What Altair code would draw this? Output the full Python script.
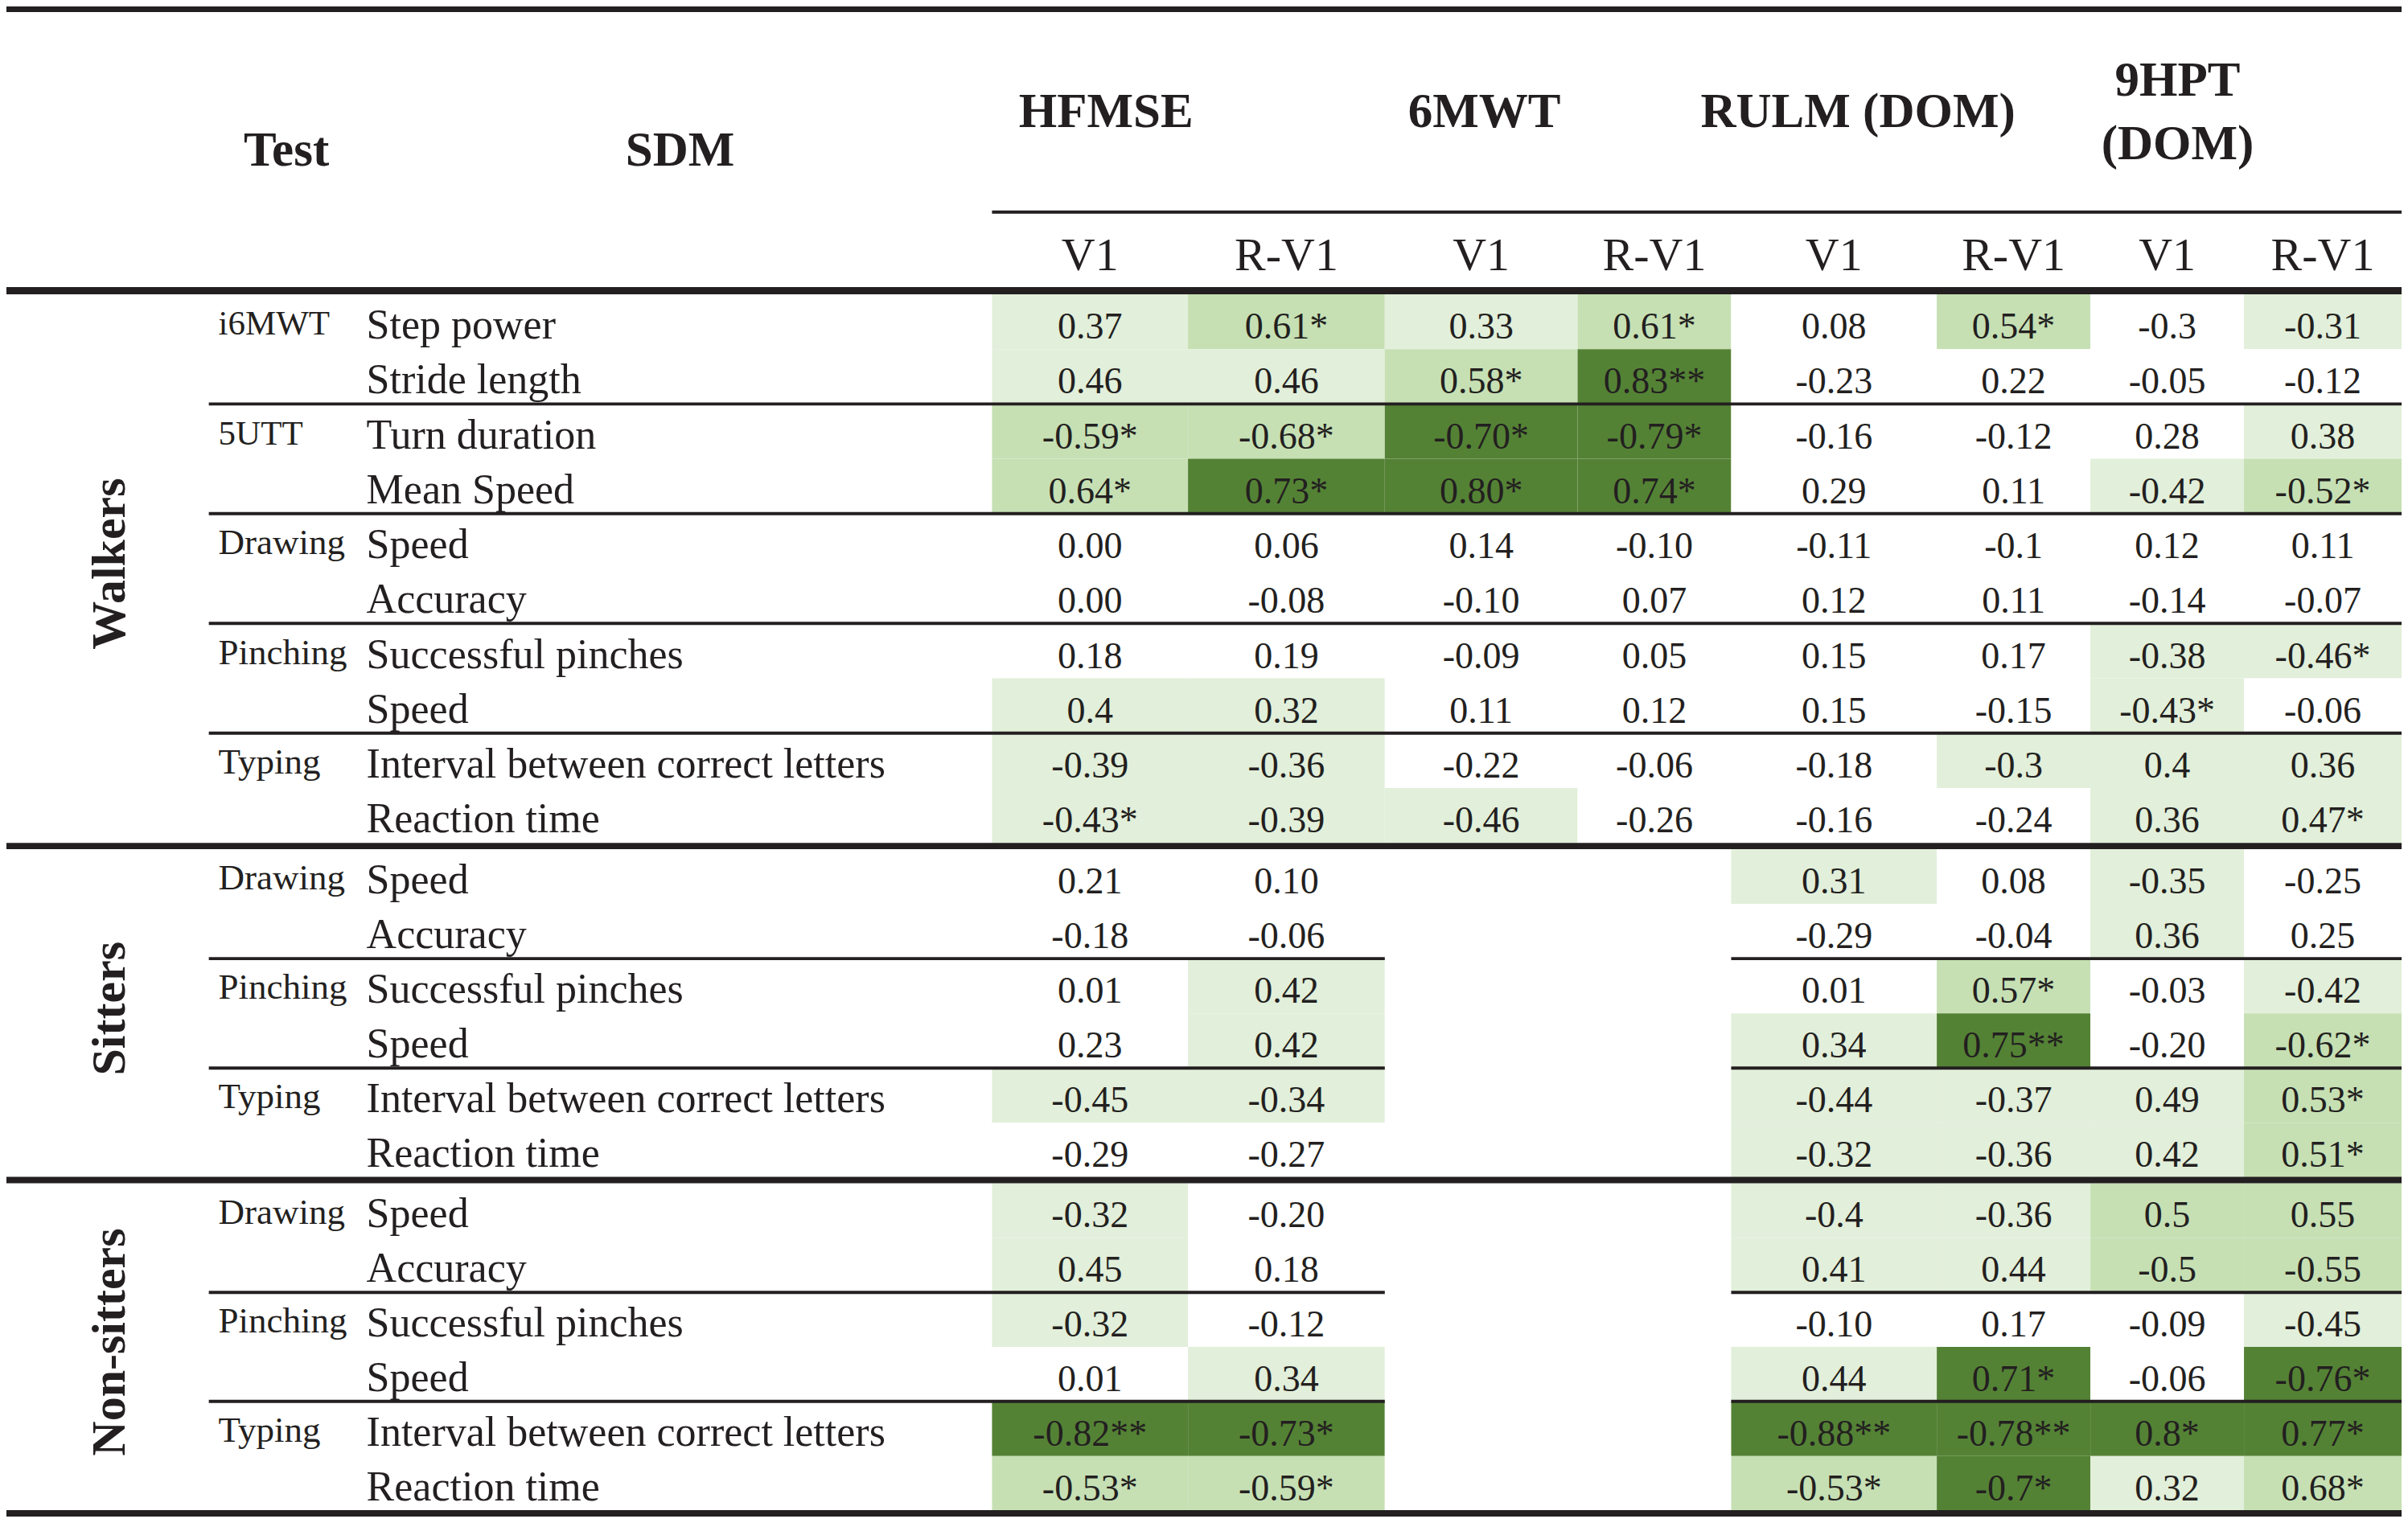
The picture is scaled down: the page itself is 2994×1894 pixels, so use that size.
import altair as alt
import pandas as pd

# ---------------- data ----------------
GROUP_NAMES = ["Walkers", "Sitters", "Non-sitters"]
COLUMN_GROUPS = ["HFMSE", "6MWT", "RULM (DOM)", ["9HPT", "(DOM)"]]
SUB_COLUMNS = ["V1", "R-V1"]

WALKER_TESTS = ["i6MWT", "", "5UTT", "", "Drawing", "", "Pinching", "", "Typing", ""]
WALKER_SDM = ["Step power", "Stride length", "Turn duration", "Mean Speed", "Speed", "Accuracy",
              "Successful pinches", "Speed", "Interval between correct letters", "Reaction time"]
WALKER_VALUES = [
    ["0.37", "0.61*", "0.33", "0.61*", "0.08", "0.54*", "-0.3", "-0.31"],
    ["0.46", "0.46", "0.58*", "0.83**", "-0.23", "0.22", "-0.05", "-0.12"],
    ["-0.59*", "-0.68*", "-0.70*", "-0.79*", "-0.16", "-0.12", "0.28", "0.38"],
    ["0.64*", "0.73*", "0.80*", "0.74*", "0.29", "0.11", "-0.42", "-0.52*"],
    ["0.00", "0.06", "0.14", "-0.10", "-0.11", "-0.1", "0.12", "0.11"],
    ["0.00", "-0.08", "-0.10", "0.07", "0.12", "0.11", "-0.14", "-0.07"],
    ["0.18", "0.19", "-0.09", "0.05", "0.15", "0.17", "-0.38", "-0.46*"],
    ["0.4", "0.32", "0.11", "0.12", "0.15", "-0.15", "-0.43*", "-0.06"],
    ["-0.39", "-0.36", "-0.22", "-0.06", "-0.18", "-0.3", "0.4", "0.36"],
    ["-0.43*", "-0.39", "-0.46", "-0.26", "-0.16", "-0.24", "0.36", "0.47*"],
]
WALKER_SHADES = ["LMLMWMWL", "LLMDWWWW", "MMDDWWWL", "MDDDWWLM", "WWWWWWWW",
                 "WWWWWWWW", "WWWWWWLL", "LLWWWWLW", "LLWWWLLL", "LLLWWWLL"]

SITTER_TESTS = ["Drawing", "", "Pinching", "", "Typing", ""]
SITTER_SDM = ["Speed", "Accuracy", "Successful pinches", "Speed",
              "Interval between correct letters", "Reaction time"]
SITTER_VALUES = [
    ["0.21", "0.10", "", "", "0.31", "0.08", "-0.35", "-0.25"],
    ["-0.18", "-0.06", "", "", "-0.29", "-0.04", "0.36", "0.25"],
    ["0.01", "0.42", "", "", "0.01", "0.57*", "-0.03", "-0.42"],
    ["0.23", "0.42", "", "", "0.34", "0.75**", "-0.20", "-0.62*"],
    ["-0.45", "-0.34", "", "", "-0.44", "-0.37", "0.49", "0.53*"],
    ["-0.29", "-0.27", "", "", "-0.32", "-0.36", "0.42", "0.51*"],
]
SITTER_SHADES = ["WWWWLWLW", "WWWWWWLW", "WLWWWMWL", "WLWWLDWM", "LLWWLLLM", "WWWWLLLM"]

NONSITTER_TESTS = ["Drawing", "", "Pinching", "", "Typing", ""]
NONSITTER_SDM = ["Speed", "Accuracy", "Successful pinches", "Speed",
                 "Interval between correct letters", "Reaction time"]
NONSITTER_VALUES = [
    ["-0.32", "-0.20", "", "", "-0.4", "-0.36", "0.5", "0.55"],
    ["0.45", "0.18", "", "", "0.41", "0.44", "-0.5", "-0.55"],
    ["-0.32", "-0.12", "", "", "-0.10", "0.17", "-0.09", "-0.45"],
    ["0.01", "0.34", "", "", "0.44", "0.71*", "-0.06", "-0.76*"],
    ["-0.82**", "-0.73*", "", "", "-0.88**", "-0.78**", "0.8*", "0.77*"],
    ["-0.53*", "-0.59*", "", "", "-0.53*", "-0.7*", "0.32", "0.68*"],
]
NONSITTER_SHADES = ["LWWWLLMM", "LWWWLLMM", "LWWWWWWL", "WLWWLDWD", "DDWWDDDD", "MMWWMDLM"]

SHADE_CODES = ["W", "L", "M", "D"]
SHADE_COLORS = ["#ffffff", "#E2EFDA", "#C6E0B4", "#548235"]

# ---------------- layout (reference pixel units) ----------------
W_REF, H_REF = 2994, 1894
COL_EDGES = [1232, 1477, 1723, 1964, 2156, 2413, 2605, 2797, 2994]
GROUP_TOPS = [361, 1057, 1476]
GROUP_ROW_H = [68.8, 68.6, 68.4]
GROUP_HEADER_DX = [20, 4, 30, 13]
TEST_X, SDM_X, SIDE_X = 265, 450, 148
INK = "#231F20"
FONT = "Liberation Serif"

groups = [
    (WALKER_TESTS, WALKER_SDM, WALKER_VALUES, WALKER_SHADES),
    (SITTER_TESTS, SITTER_SDM, SITTER_VALUES, SITTER_SHADES),
    (NONSITTER_TESTS, NONSITTER_SDM, NONSITTER_VALUES, NONSITTER_SHADES),
]

cells, tests, sdms, sides, bars = [], [], [], [], []
for g, (tl, sl, vals, shades) in enumerate(groups):
    top, rh = GROUP_TOPS[g], GROUP_ROW_H[g]
    n = len(sl)
    for r in range(n):
        y0 = top + r * rh
        y1 = y0 + rh
        for c in range(8):
            cells.append(dict(x0=COL_EDGES[c], x1=COL_EDGES[c + 1], y0=y0, y1=y1,
                              shade=shades[r][c], label=vals[r][c],
                              tx=(COL_EDGES[c] + COL_EDGES[c + 1]) / 2, ty=y1 - 13))
        sdms.append(dict(tx=SDM_X, ty=y1 - 13, label=sl[r]))
        if tl[r]:
            big = tl[r] not in ("i6MWT", "5UTT")
            tests.append(dict(tx=TEST_X, ty=y1 - 18, label=tl[r], size=45 if big else 43))
    sides.append(dict(tx=SIDE_X, ty=top + n * rh / 2 - 6, label=GROUP_NAMES[g]))
    # thin separators between test blocks
    for k in range(2, n, 2):
        yb = top + k * rh
        if g == 0:
            bars.append(dict(x0=253, x1=W_REF, y0=yb - 2, y1=yb + 2))
        else:
            bars.append(dict(x0=253, x1=COL_EDGES[2], y0=yb - 2, y1=yb + 2))
            bars.append(dict(x0=COL_EDGES[4], x1=W_REF, y0=yb - 2, y1=yb + 2))

# thick rules
for (a, b) in [(0, 7), (352, 361), (1049, 1057), (1468, 1476), (1886, 1894)]:
    bars.append(dict(x0=0, x1=W_REF, y0=a, y1=b))
# group header underline
bars.append(dict(x0=COL_EDGES[0], x1=W_REF, y0=256, y1=260))

headers = [dict(tx=350, ty=200, label="Test"), dict(tx=842, ty=200, label="SDM")]
for i, name in enumerate(COLUMN_GROUPS):
    cx = (COL_EDGES[2 * i] + COL_EDGES[2 * i + 1]) / 2 + GROUP_HEADER_DX[i]
    if isinstance(name, list):
        headers.append(dict(tx=cx, ty=112, label=name[0]))
        headers.append(dict(tx=cx, ty=192, label=name[1]))
    else:
        headers.append(dict(tx=cx, ty=151, label=name))

subheads = []
for c in range(8):
    subheads.append(dict(tx=(COL_EDGES[c] + COL_EDGES[c + 1]) / 2, ty=331, label=SUB_COLUMNS[c % 2]))

XS = alt.Scale(domain=[0, W_REF], nice=False, zero=False)
YS = alt.Scale(domain=[0, H_REF], nice=False, zero=False, reverse=True)


def rect_layer(df, color_enc):
    return alt.Chart(df).mark_rect(strokeWidth=0).encode(
        x=alt.X("x0:Q", scale=XS, axis=None), x2="x1:Q",
        y=alt.Y("y0:Q", scale=YS, axis=None), y2="y1:Q",
        color=color_enc)


def text_layer(df, **kw):
    base = dict(font=FONT, color=INK, baseline="alphabetic", align="center")
    base.update(kw)
    return alt.Chart(df).mark_text(**base).encode(
        x=alt.X("tx:Q", scale=XS, axis=None),
        y=alt.Y("ty:Q", scale=YS, axis=None),
        text="label:N")


cell_df = pd.DataFrame(cells)
cell_rects = rect_layer(cell_df, alt.Color("shade:N", scale=alt.Scale(domain=SHADE_CODES, range=SHADE_COLORS), legend=None))
bar_rects = rect_layer(pd.DataFrame(bars), alt.value(INK))
cell_text = text_layer(cell_df[cell_df["label"] != ""], fontSize=46)
sdm_text = text_layer(pd.DataFrame(sdms), fontSize=52, align="left")
tests_df = pd.DataFrame(tests)
test_text_big = text_layer(tests_df[tests_df["size"] == 45], fontSize=45, align="left")
test_text_small = text_layer(tests_df[tests_df["size"] == 43], fontSize=43, align="left")
side_text = text_layer(pd.DataFrame(sides), fontSize=60, fontWeight="bold", angle=270)
head_text = text_layer(pd.DataFrame(headers), fontSize=61, fontWeight="bold")
sub_text = text_layer(pd.DataFrame(subheads), fontSize=58)

chart = alt.layer(
    cell_rects, bar_rects, cell_text, sdm_text, test_text_big, test_text_small,
    side_text, head_text, sub_text
).properties(
    width=2978, height=1878, padding=0,
    autosize=alt.AutoSizeParams(type="none"),
    background="#ffffff",
).configure_view(stroke=None)

chart.save("out.html", embed_options={"renderer": "svg", "actions": False})
